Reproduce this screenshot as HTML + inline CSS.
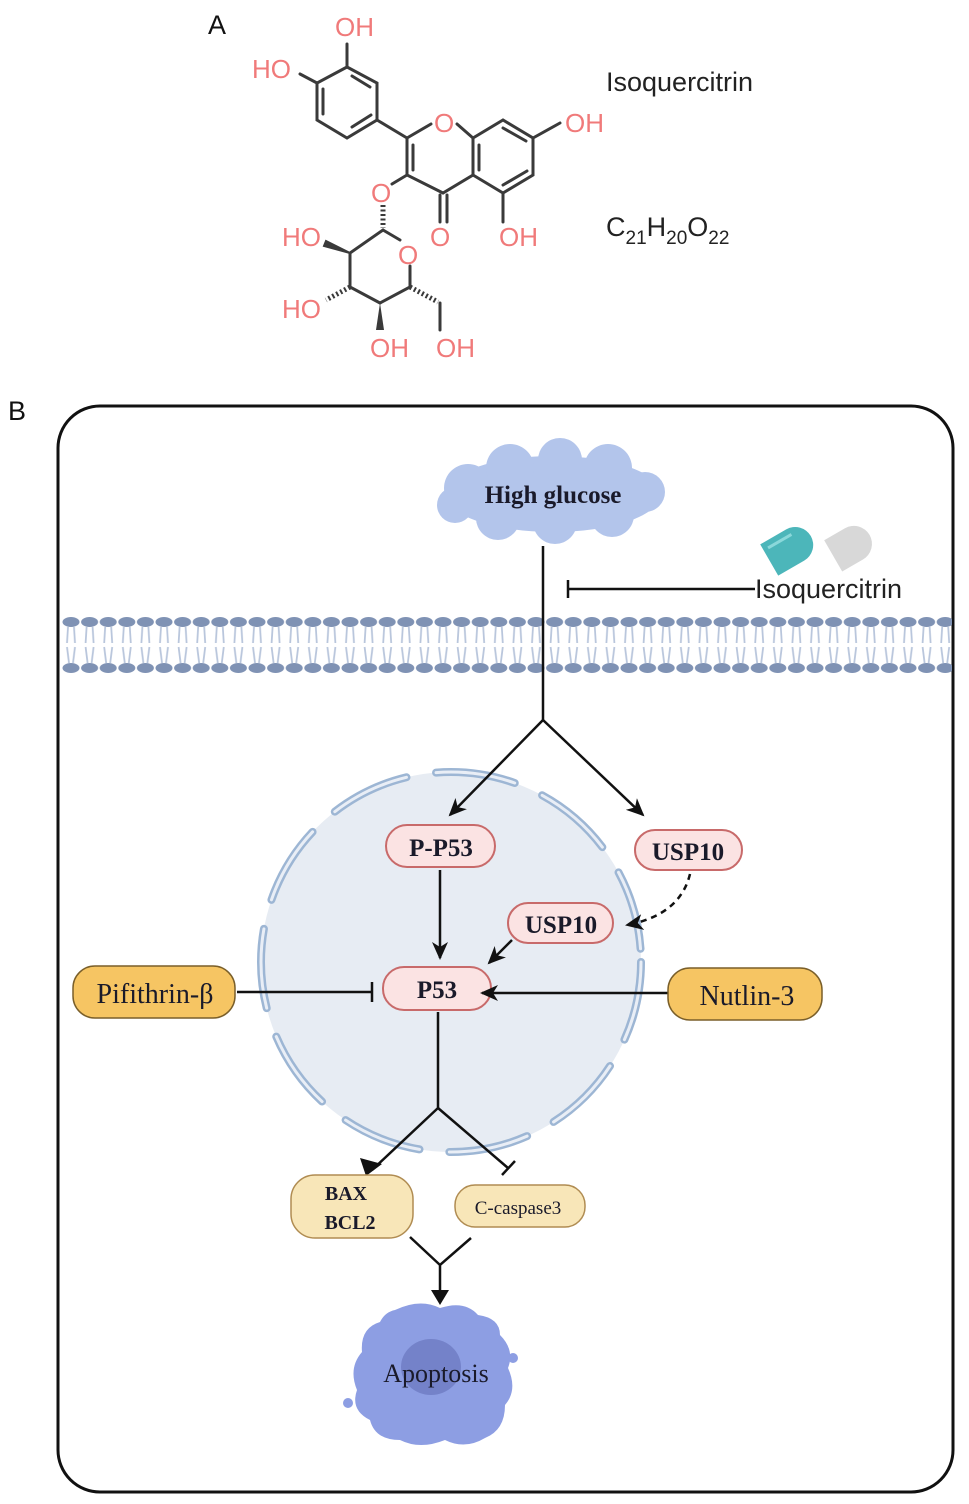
<!DOCTYPE html>
<html><head><meta charset="utf-8"><style>
body{margin:0;background:#fff;}
svg{display:block;}
.pk{fill:#f07a7a;font-family:"Liberation Sans",sans-serif;font-size:26px;}
.sf{font-family:"Liberation Serif",serif;fill:#1a1a2a;}
</style></head><body>
<svg width="969" height="1504" viewBox="0 0 969 1504" xmlns="http://www.w3.org/2000/svg">
<defs>
<marker id="ar" markerWidth="10" markerHeight="10" refX="8" refY="5" orient="auto" markerUnits="userSpaceOnUse"><path d="M0,0 L10,5 L0,10 L3,5 Z" fill="#111"/></marker>
<marker id="arL" markerWidth="18" markerHeight="16" refX="16" refY="8" orient="auto" markerUnits="userSpaceOnUse"><path d="M0,0 L18,8 L0,16 L5,8 Z" fill="#111"/></marker>
<pattern id="memT" x="62" y="0" width="18.6" height="1504" patternUnits="userSpaceOnUse">
<ellipse cx="9" cy="622" rx="8.5" ry="5" fill="#7f92b4"/>
<path d="M6,627 L5,643 M12,627 L13,643" stroke="#b9c6dc" stroke-width="1.8" fill="none"/>
<path d="M5,647 L7,663 M13,647 L11,663" stroke="#b9c6dc" stroke-width="1.8" fill="none"/>
<ellipse cx="9" cy="668" rx="8.5" ry="5" fill="#7f92b4"/>
</pattern>
</defs>

<text x="208" y="34" font-family="Liberation Sans,sans-serif" font-size="27" fill="#111">A</text>
<g stroke="#3a3a3a" stroke-width="3" fill="none" stroke-linecap="round">
<path d="M347,67 L377,83 L377,120 L347,138 L317,120 L317,83 Z"/>
<path d="M352,76 L370,87 M371,115 L352,127 M323,114 L323,89"/>
<path d="M347,67 L347,44 M317,83 L300,74"/>
<path d="M377,120 L407,138"/>
<path d="M407,138 L431,124 M457,124 L473,138 L473,175 L443,193 L407,175 L407,138"/>
<path d="M413,145 L413,170"/>
<path d="M473,138 L503,120 L533,138 L533,175 L503,193 L473,175"/>
<path d="M503,128 L526,141 M527,171 L503,185 M479,145 L479,170"/>
<path d="M533,138 L560,123 M503,193 L503,222"/>
<path d="M440,195 L440,222 M447,195 L447,222"/>
<path d="M407,175 L392,184"/>
<path d="M383,230 L400,240 M410,266 L410,287 L380,303 L350,287 L350,253 L383,230"/>
<path d="M440,303 L440,330"/>
</g>
<g stroke="#3a3a3a" stroke-width="2">
<path d="M383,205 L383,228" stroke-dasharray="2,2.5" stroke-width="5"/>
<path d="M350,287 L326,300" stroke-dasharray="2,2.5" stroke-width="5"/>
<path d="M410,287 L438,302" stroke-dasharray="2,2.5" stroke-width="5"/>
</g>
<path d="M350,253 L326,241 L324,246 Z" fill="#3a3a3a" stroke="#3a3a3a" stroke-width="2"/>
<path d="M380,303 L376,330 L384,330 Z" fill="#3a3a3a"/>
<text class="pk" x="335" y="36">OH</text>
<text class="pk" x="252" y="78">HO</text>
<text class="pk" x="434" y="132">O</text>
<text class="pk" x="565" y="132">OH</text>
<text class="pk" x="371" y="202">O</text>
<text class="pk" x="430" y="246">O</text>
<text class="pk" x="499" y="246">OH</text>
<text class="pk" x="398" y="264">O</text>
<text class="pk" x="282" y="246">HO</text>
<text class="pk" x="282" y="318">HO</text>
<text class="pk" x="370" y="357">OH</text>
<text class="pk" x="436" y="357">OH</text>
<text x="606" y="91" font-family="Liberation Sans,sans-serif" font-size="27" fill="#222">Isoquercitrin</text>
<text x="606" y="236" font-family="Liberation Sans,sans-serif" font-size="27" fill="#222">C<tspan font-size="19" dy="8">21</tspan><tspan dy="-8">H</tspan><tspan font-size="19" dy="8">20</tspan><tspan dy="-8">O</tspan><tspan font-size="19" dy="8">22</tspan></text>

<text x="8" y="420" font-family="Liberation Sans,sans-serif" font-size="27" fill="#111">B</text>
<rect x="58" y="406" width="895" height="1086" rx="42" fill="none" stroke="#111" stroke-width="3"/>

<rect x="62" y="614" width="890" height="62" fill="url(#memT)"/>

<g fill="#b3c5eb">
<ellipse cx="553" cy="494" rx="108" ry="38"/>
<circle cx="468" cy="488" r="24"/><circle cx="510" cy="468" r="24"/><circle cx="560" cy="460" r="22"/><circle cx="608" cy="468" r="24"/><circle cx="645" cy="492" r="20"/>
<circle cx="612" cy="515" r="22"/><circle cx="555" cy="522" r="22"/><circle cx="498" cy="518" r="22"/><circle cx="455" cy="505" r="18"/>
</g>
<text class="sf" x="553" y="503" font-size="25" text-anchor="middle" font-weight="bold" fill="#1a1a2a">High glucose</text>

<g transform="rotate(-30 790 548)"><path d="M766,530 L796,530 A18,18 0 0 1 796,566 L766,566 Z" fill="#4cb6ba"/><path d="M771,537 L798,537" stroke="#8ad8da" stroke-width="3"/></g>
<g transform="rotate(-30 850 545)"><path d="M830,528 L854,528 A18,18 0 0 1 854,564 L830,564 Z" fill="#d8d8d8"/></g>
<text x="755" y="598" font-family="Liberation Sans,sans-serif" font-size="27" fill="#222">Isoquercitrin</text>

<g stroke="#111" stroke-width="2.5" fill="none">
<path d="M543,546 L543,720"/>
<path d="M755,589 L568,589 M568,580 L568,598"/>
</g>

<circle cx="451" cy="962" r="190" fill="#e7ecf3"/>
<circle cx="451" cy="962" r="190" fill="none" stroke="#9db6d4" stroke-width="8" stroke-dasharray="80,30" stroke-linecap="round"/>
<circle cx="451" cy="962" r="190" fill="none" stroke="#e9eef6" stroke-width="3" stroke-dasharray="80,30" stroke-linecap="round"/>

<g stroke="#111" stroke-width="2.5" fill="none">
<path d="M543,720 L450,815" marker-end="url(#arL)"/>
<path d="M543,720 L643,815" marker-end="url(#arL)"/>
</g>

<g fill="#fbe3e3" stroke="#c86a6a" stroke-width="2">
<rect x="386" y="825" width="109" height="42" rx="21"/>
<rect x="635" y="830" width="107" height="40" rx="20"/>
<rect x="508" y="903" width="105" height="40" rx="20"/>
<rect x="383" y="967" width="108" height="43" rx="21"/>
</g>
<g class="sf" font-size="25" text-anchor="middle" font-weight="bold">
<text x="441" y="856">P-P53</text>
<text x="688" y="860">USP10</text>
<text x="561" y="933">USP10</text>
<text x="437" y="998">P53</text>
</g>
<g stroke="#111" stroke-width="2.5" fill="none">
<path d="M440,870 L440,958" marker-end="url(#arL)"/>
<path d="M512,940 L489,963" marker-end="url(#arL)"/>
<path d="M690,874 Q680,915 627,925" stroke-dasharray="6,5" marker-end="url(#arL)"/>
<path d="M237,992 L372,992 M372,982 L372,1002"/>
<path d="M668,993 L482,993" marker-end="url(#arL)"/>
<path d="M438,1012 L438,1108 L372,1170" />
<path d="M438,1108 L508,1168 M502,1175 L515,1161"/>
</g>
<path d="M366,1176 L360,1158 L382,1164 Z" fill="#111"/>

<g fill="#f6c563" stroke="#7a5f2a" stroke-width="1.5">
<rect x="73" y="966" width="162" height="52" rx="22"/>
<rect x="668" y="968" width="154" height="52" rx="22"/>
</g>
<text class="sf" x="155" y="1003" font-size="28" text-anchor="middle">Pifithrin-β</text>
<text class="sf" x="747" y="1005" font-size="28" text-anchor="middle">Nutlin-3</text>

<g fill="#f8e6b8" stroke="#b08c52" stroke-width="1.5">
<rect x="291" y="1175" width="122" height="63" rx="24"/>
<rect x="455" y="1185" width="130" height="42" rx="20"/>
</g>
<text class="sf" x="346" y="1200" font-size="20" text-anchor="middle" font-weight="bold">BAX</text>
<text class="sf" x="350" y="1229" font-size="20" text-anchor="middle" font-weight="bold">BCL2</text>
<text class="sf" x="518" y="1214" font-size="19" text-anchor="middle">C-caspase3</text>

<g stroke="#111" stroke-width="2.5" fill="none">
<path d="M410,1237 L440,1265 L471,1238 M440,1265 L440,1298"/>
</g>
<path d="M431,1290 L440,1305 L449,1290 Z" fill="#111"/>

<path d="M395,1310 Q420,1298 440,1308 Q465,1300 478,1315 Q500,1318 500,1335 Q515,1350 508,1368 Q518,1390 505,1405 Q505,1430 485,1438 Q465,1450 445,1440 Q420,1450 400,1440 Q375,1440 370,1420 Q350,1410 357,1390 Q348,1368 362,1352 Q360,1328 380,1322 Q385,1312 395,1310 Z" fill="#8d9ee3"/>
<ellipse cx="431" cy="1367" rx="30" ry="28" fill="#7482c9"/>
<circle cx="513" cy="1358" r="5" fill="#8d9ee3"/>
<circle cx="348" cy="1403" r="5" fill="#8d9ee3"/>
<text class="sf" x="436" y="1382" font-size="26" text-anchor="middle" fill="#111">Apoptosis</text>
</svg>
</body></html>
